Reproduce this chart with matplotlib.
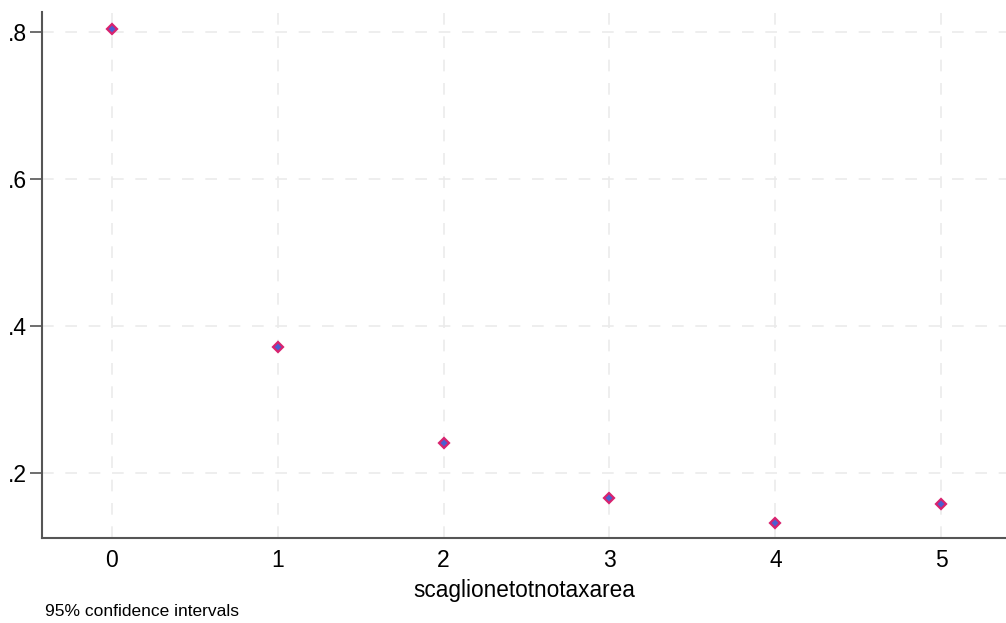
import matplotlib.pyplot as plt

plt.rcParams['font.family'] = ['Liberation Sans', 'DejaVu Sans']

# predicted margins by bracket
levels = [0, 1, 2, 3, 4, 5]
margins = [0.804, 0.371, 0.241, 0.166, 0.132, 0.158]
yticks = [0.2, 0.4, 0.6, 0.8]
ytick_labels = ['.2', '.4', '.6', '.8']

fig = plt.figure(figsize=(10.06, 6.23), dpi=100)
ax = fig.add_axes([42 / 1006, 85 / 623, 964 / 1006, 526 / 623])

ax.plot(levels, margins, linestyle='none', marker='D', markersize=5,
        markerfacecolor='#4a5fd0', markeredgecolor='#d8236f', markeredgewidth=1.6)

ax.set_xlim(-0.42, 5.39)
ax.set_ylim(0.1116, 0.827)
ax.set_xticks(levels)
ax.set_yticks(yticks)
ax.set_yticklabels(ytick_labels)

ax.grid(True, color='#ebebeb', linestyle=(0, (7, 7)), linewidth=1.2)
ax.set_axisbelow(True)

for side in ['top', 'right']:
    ax.spines[side].set_visible(False)
for side in ['left', 'bottom']:
    ax.spines[side].set_color('#555555')
    ax.spines[side].set_linewidth(1.5)

ax.tick_params(axis='y', length=9, width=1.2, color='#555555', labelsize=16.5, pad=2)
ax.tick_params(axis='x', length=0, labelsize=16.5, pad=8)
ax.set_xlabel('scaglionetotnotaxarea', fontsize=16.3, labelpad=5)

fig.text(45 / 1006, 4 / 623, '95% confidence intervals', fontsize=12.5,
         va='bottom', ha='left')

fig.savefig('out.png', dpi=100)
